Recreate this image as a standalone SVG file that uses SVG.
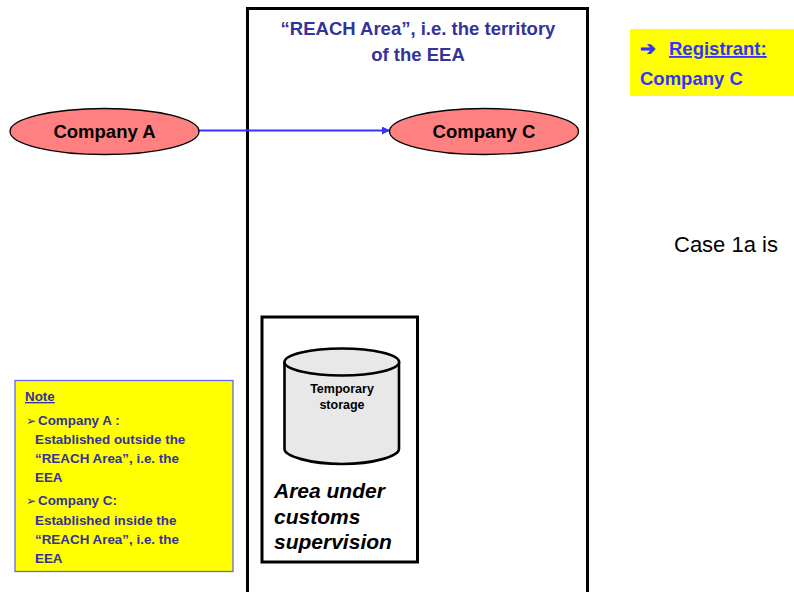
<svg xmlns="http://www.w3.org/2000/svg" width="794" height="592" viewBox="0 0 794 592">
<style>
text{font-family:"Liberation Sans",Arial,sans-serif;font-weight:700}
.blue{fill:#333399}.br{fill:#3333ff}
.n{font-size:13.4px;fill:#333399}
.box{fill:#fff;stroke:#000;stroke-width:3}
.ell{fill:#ff8080;stroke:#000;stroke-width:1.3}
.co{font-size:18.5px;fill:#000;text-anchor:middle}
.c{fill:#e8e8e8;stroke:#000;stroke-width:2.6}
</style>
<defs><marker id="a" markerUnits="userSpaceOnUse" markerWidth="9" markerHeight="9" refX="8" refY="4" orient="auto"><path d="M0 0L8 4L0 8z" fill="#3333ff"/></marker></defs>
<rect width="794" height="592" fill="#fff"/>
<g id="reach-area"><rect class="box" x="247.500" y="8.500" width="340" height="600"/>
<text x="418" y="35" text-anchor="middle" font-size="18.500" class="blue">“REACH Area”, i.e. the territory</text>
<text x="418" y="61" text-anchor="middle" font-size="18.500" class="blue">of the EEA</text></g>
<g id="customs-area"><rect class="box" x="262" y="317" width="155.500" height="245"/>
<text x="274" y="498" font-size="21" font-style="italic" fill="#000">Area under</text>
<text x="274" y="524" font-size="21" font-style="italic" fill="#000">customs</text>
<text x="274" y="549" font-size="21" font-style="italic" fill="#000">supervision</text></g>
<g id="storage"><path class="c" d="M284.500 362V449C284.500 456 310 464 342 464S399 456 399 449V362"/><ellipse class="c" cx="341.800" cy="362" rx="57.300" ry="13.500"/>
<text x="342" y="393" text-anchor="middle" font-size="12.500" fill="#000">Temporary</text>
<text x="342" y="409" text-anchor="middle" font-size="12.500" fill="#000">storage</text></g>
<g id="connectors"><path d="M198 130.500H390" stroke="#3333ff" stroke-width="2.200" fill="none" marker-end="url(#a)"/></g>
<g id="company-a"><ellipse class="ell" cx="104.500" cy="131.500" rx="94.500" ry="23"/><text class="co" x="104.500" y="138">Company A</text></g>
<g id="company-c"><ellipse class="ell" cx="484" cy="131.500" rx="94.500" ry="23"/><text class="co" x="484" y="138">Company C</text></g>
<g id="registrant"><rect x="630" y="29" width="164" height="67" fill="#ff0"/>
<text x="640" y="55" font-size="18.500" class="br" font-family="'DejaVu Sans',sans-serif">➔</text>
<text x="669" y="55" font-size="18.500" class="br" text-decoration="underline">Registrant:</text>
<text x="640" y="85" font-size="18.500" class="br">Company C</text></g>
<text id="case" x="674" y="252" font-size="22" style="font-weight:400" fill="#000">Case 1a is</text>
<g id="note"><rect x="15" y="380.500" width="218" height="191" fill="#ff0" stroke="#6666ff" stroke-width="1.300"/>
<text class="n" x="25" y="401" text-decoration="underline">Note</text>
<text class="n" x="26" y="425" style="font-family:'DejaVu Sans',sans-serif;font-size:12px">➢</text>
<text class="n" x="38" y="425">Company A :</text>
<text class="n" x="35" y="444">Established outside the</text>
<text class="n" x="35" y="463">“REACH Area”, i.e. the</text>
<text class="n" x="35" y="482">EEA</text>
<text class="n" x="26" y="505" style="font-family:'DejaVu Sans',sans-serif;font-size:12px">➢</text>
<text class="n" x="38" y="505">Company C:</text>
<text class="n" x="35" y="525">Established inside the</text>
<text class="n" x="35" y="544">“REACH Area”, i.e. the</text>
<text class="n" x="35" y="563">EEA</text></g>
</svg>
